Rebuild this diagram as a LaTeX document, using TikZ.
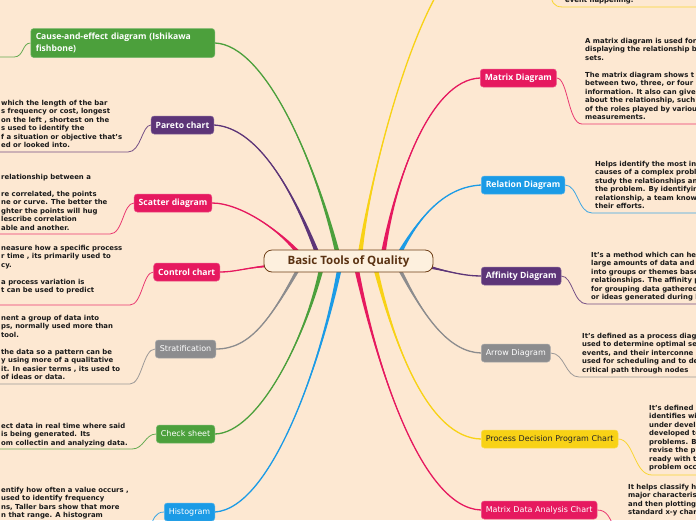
\documentclass[tikz,border=0pt]{standalone}
\usepackage{fontspec}
\setmainfont{DejaVu Sans}
\newfontfamily\labelfont{Open Sans}
\usetikzlibrary{calc,backgrounds}
\pgfdeclarelayer{paper}
\pgfsetlayers{paper,background,main}
\definecolor{bg}{RGB}{253,232,210}
\definecolor{mmgreen}{RGB}{76,160,60}
\definecolor{mmpurple}{RGB}{93,53,120}
\definecolor{mmred}{RGB}{230,25,95}
\definecolor{mmgray}{RGB}{140,140,142}
\definecolor{mmblue}{RGB}{27,155,230}
\definecolor{mmyellow}{RGB}{248,210,22}
\definecolor{hubfill}{RGB}{253,240,222}
\definecolor{hubline}{RGB}{110,62,22}
\definecolor{hubtext}{RGB}{90,50,18}
\definecolor{notetext}{RGB}{25,25,25}
\tikzset{
  hub/.style={rectangle, rounded corners=8pt, fill=hubfill, draw=hubline, line width=0.8pt,
              minimum width=169pt, minimum height=22pt, text=hubtext,
              font=\labelfont\bfseries\fontsize{11.5}{13}\selectfont},
  topic/.style={rectangle, rounded corners=3pt, fill=#1, draw=#1!75!white, line width=0.5pt,
                text=white, minimum height=18pt, inner xsep=4.5pt, inner ysep=2pt,
                font=\labelfont\bfseries\fontsize{8.6}{11.5}\selectfont},
  topicr/.style={topic=#1, font=\fontsize{8}{9}\selectfont},
  note/.style={anchor=north west, align=left, inner sep=0pt, text=notetext,
               font=\bfseries\fontsize{6.9}{8.5}\selectfont},
  twig/.style={draw=#1, line width=0.8pt, opacity=0.85}
}
% main branch: colour, root, control 1, control 2, end, half width at root
\newcommand\mmbranch[6]{%
  \fill[#1] ($(#2)+(#6)$) .. controls #3 and #4 .. (#5) .. controls #4 and #3 .. ($(#2)-(#6)$) -- cycle;
  \draw[#1, line width=1.3pt] (#2) .. controls #3 and #4 .. (#5);
}
\begin{document}
\begin{tikzpicture}[x=1pt, y=-1pt]
\useasboundingbox (0,0) rectangle (696,520);
\begin{pgfonlayer}{paper}
\fill[bg] (0,0) rectangle (696,520);
\end{pgfonlayer}
% ---- left topics ----
\node[topic=mmgreen, anchor=east, text width=174pt, inner xsep=5pt, align=left, minimum height=29pt] (cause) at (215,43) {Cause-and-effect diagram (Ishikawa\\fishbone)};
\node[topic=mmpurple, anchor=east] (pareto) at (214,125) {Pareto chart};
\node[topic=mmred, anchor=east] (scatter) at (212,203) {Scatter diagram};
\node[topic=mmred, anchor=east] (control) at (220,272) {Control chart};
\node[topicr=mmgray, anchor=east] (strat) at (216,349) {Stratification};
\node[topicr=mmgreen, anchor=east] (check) at (215,434) {Check sheet};
\node[topicr=mmblue, anchor=east] (hist) at (215,512) {Histogram};
% ---- right topics ----
\coordinate (yeltop) at (437,-6);
\node[topic=mmred, anchor=west] (matrix) at (480,78) {Matrix Diagram};
\node[topic=mmblue, anchor=west] (relation) at (481,185) {Relation Diagram};
\node[topic=mmpurple, anchor=west] (affinity) at (481,276) {Affinity Diagram};
\node[topicr=mmgray, anchor=west] (arrow) at (481,353) {Arrow Diagram};
\node[topicr=mmyellow, anchor=west, text=black!85] (pdpc) at (481,439) {Process Decision Program Chart};
\node[topicr=mmred, anchor=west] (mdac) at (481,510) {Matrix Data Analysis Chart};
\node[hub] (hub) at (348.5,261) {Basic Tools of Quality};
% ---- branch roots ----
\coordinate (r1) at (338,255);  \coordinate (r2) at (318,255);
\coordinate (r3) at (300,255);  \coordinate (r4) at (268,266);
\coordinate (r5) at (300,266);  \coordinate (r6) at (322,266);
\coordinate (r7) at (340,266);  \coordinate (r8) at (360,255);
\coordinate (r9) at (383,255);  \coordinate (r10) at (398,256);
\coordinate (r11) at (425,266); \coordinate (r12) at (398,266);
\coordinate (r13) at (375,266); \coordinate (r14) at (356,266);
% ---- main branches ----
\begin{scope}[on background layer]
\clip (0,0) rectangle (696,520);
\mmbranch{mmgreen}{r1}{(315,160)}{(265,45)}{cause.east}{2.4,0}
\mmbranch{mmpurple}{r2}{(285,170)}{(250,127)}{pareto.east}{2.4,0}
\mmbranch{mmred}{r3}{(280,230)}{(240,203)}{scatter.east}{1.7,-1.7}
\mmbranch{mmred}{r4}{(245,268)}{(235,272)}{control.east}{0,1.2}
\mmbranch{mmgray}{r5}{(270,320)}{(250,349)}{strat.east}{2.2,0}
\mmbranch{mmgreen}{r6}{(305,340)}{(258,433)}{check.east}{2.4,0}
\mmbranch{mmblue}{r7}{(322,360)}{(272,508)}{hist.east}{2.4,0}
\mmbranch{mmyellow}{r8}{(368,190)}{(400,60)}{yeltop}{2.4,0}
\mmbranch{mmred}{r9}{(395,180)}{(430,80)}{matrix.west}{2.4,0}
\mmbranch{mmblue}{r10}{(420,215)}{(445,187)}{relation.west}{1.7,1.7}
\mmbranch{mmpurple}{r11}{(450,272)}{(465,276)}{affinity.west}{0,1.8}
\mmbranch{mmgray}{r12}{(425,320)}{(450,352)}{arrow.west}{2.2,0}
\mmbranch{mmyellow}{r13}{(395,350)}{(430,438)}{pdpc.west}{2.4,0}
\mmbranch{mmred}{r14}{(375,360)}{(420,508)}{mdac.west}{2.4,0}
\end{scope}
% ---- twigs to the notes ----
\coordinate (cause-end) at (-5,57);   \coordinate (pareto-end) at (-5,152);
\coordinate (scatter-end) at (-5,234); \coordinate (control-end) at (-5,305);
\coordinate (strat-end) at (-5,384);  \coordinate (check-end) at (-5,449);
\coordinate (hist-end) at (150,528);  \coordinate (yel-start) at (551,-10);
\coordinate (yel-end) at (700,7);     \coordinate (matrix-end) at (700,124);
\coordinate (relation-end) at (700,213); \coordinate (affinity-end) at (700,304);
\coordinate (arrow-end) at (700,377); \coordinate (pdpc-end) at (700,475);
\coordinate (mdac-end) at (614,528);
\begin{scope}[on background layer]
\clip (0,0) rectangle (696,520);
\draw[twig=mmgreen] (cause.west) .. controls (22,43) and (24,57) .. (14,57) -- (cause-end);
\draw[twig=mmpurple] (pareto.west) .. controls (142,125) and (141,152) .. (128,152) -- (pareto-end);
\draw[twig=mmred] (scatter.west) .. controls (123,203) and (123,234) .. (110,234) -- (scatter-end);
\draw[twig=mmred] (control.west) .. controls (143,272) and (142,305) .. (130,305) -- (control-end);
\draw[twig=mmgray] (strat.west) .. controls (143,349) and (142,384) .. (130,384) -- (strat-end);
\draw[twig=mmgreen] (check.west) .. controls (145,434) and (144,449) .. (132,449) -- (check-end);
\draw[twig=mmblue] (hist.west) .. controls (155,512) and (153,520) .. (hist-end);
\draw[twig=mmyellow] (yel-start) .. controls (551,2) and (553,7) .. (563,7) -- (yel-end);
\draw[twig=mmred] (matrix.east) .. controls (568,78) and (568,124) .. (582,124) -- (matrix-end);
\draw[twig=mmblue] (relation.east) .. controls (578,185) and (578,213) .. (592,213) -- (relation-end);
\draw[twig=mmpurple] (affinity.east) .. controls (573,276) and (573,304) .. (587,304) -- (affinity-end);
\draw[twig=mmgray] (arrow.east) .. controls (565,353) and (565,377) .. (579,377) -- (arrow-end);
\draw[twig=mmyellow] (pdpc.east) .. controls (634,439) and (634,475) .. (652,475) -- (pdpc-end);
\draw[twig=mmred] (mdac.east) .. controls (607,510) and (610,518) .. (mdac-end);
\end{scope}
% ---- notes ----
\node[note] (pareto-note) at (1,100) {which the length of the bar\\s frequency or cost, longest\\on the left , shortest on the\\s used to identify the\\f a situation or objective that's\\ed or looked into.};
\node[note] (scatter-note) at (1,174) {relationship between a\\[8.5pt]re correlated, the points\\ne or curve. The better the\\ghter the points will hug\\lescribe correlation\\able and another.};
\node[note] (control-note) at (1,245) {neasure how a specific process\\r time , its primarily used to\\cy.\\[8.5pt]a process variation is\\t can be used to predict};
\node[note] (strat-note) at (1,315) {nent a group of data into\\ps, normally used more than\\tool.\\[8.5pt]the data so a pattern can be\\y using more of a qualitative\\it. In easier terms , its used to\\of ideas or data.};
\node[note] (check-note) at (1,423) {ect data in real time where said\\is being generated. Its\\om collectin and analyzing data.};
\node[note] (hist-note) at (1,487) {entify how often a value occurs ,\\used to identify frequency\\ns,  Taller bars show that more\\n that range. A histogram};
\node[note] (yel-note) at (565,-3) {event happening.};
\node[note] (matrix-note) at (585,38) {A matrix diagram is used for\\displaying the relationship b\\sets.\\[8.5pt]The matrix diagram shows t\\between two, three, or four\\information. It also can give\\about the relationship, such\\of the roles played by variou\\measurements.};
\node[note] (relation-note) at (595,161) {Helps identify the most in\\causes of a complex probl\\study the relationships an\\the problem.  By identifyin\\relationship, a team know\\their efforts.};
\node[note] (affinity-note) at (591,252) {It's a method which can he\\large amounts of data and\\into groups or themes base\\relationships. The affinity p\\for grouping data gathered\\or ideas generated during b};
\node[note] (arrow-note) at (582,333) {It's defined as a process diag\\used to determine optimal se\\events, and their interconne\\used for scheduling and to de\\critical path through nodes};
\node[note] (pdpc-note) at (649,405) {It's defined\\identifies wi\\under devel\\developed to\\problems. B\\revise the p\\ready with t\\problem occ};
\node[note] (mdac-note) at (628,484) {It helps classify h\\major characteris\\and then plotting\\standard x-y char};
\end{tikzpicture}
\end{document}
